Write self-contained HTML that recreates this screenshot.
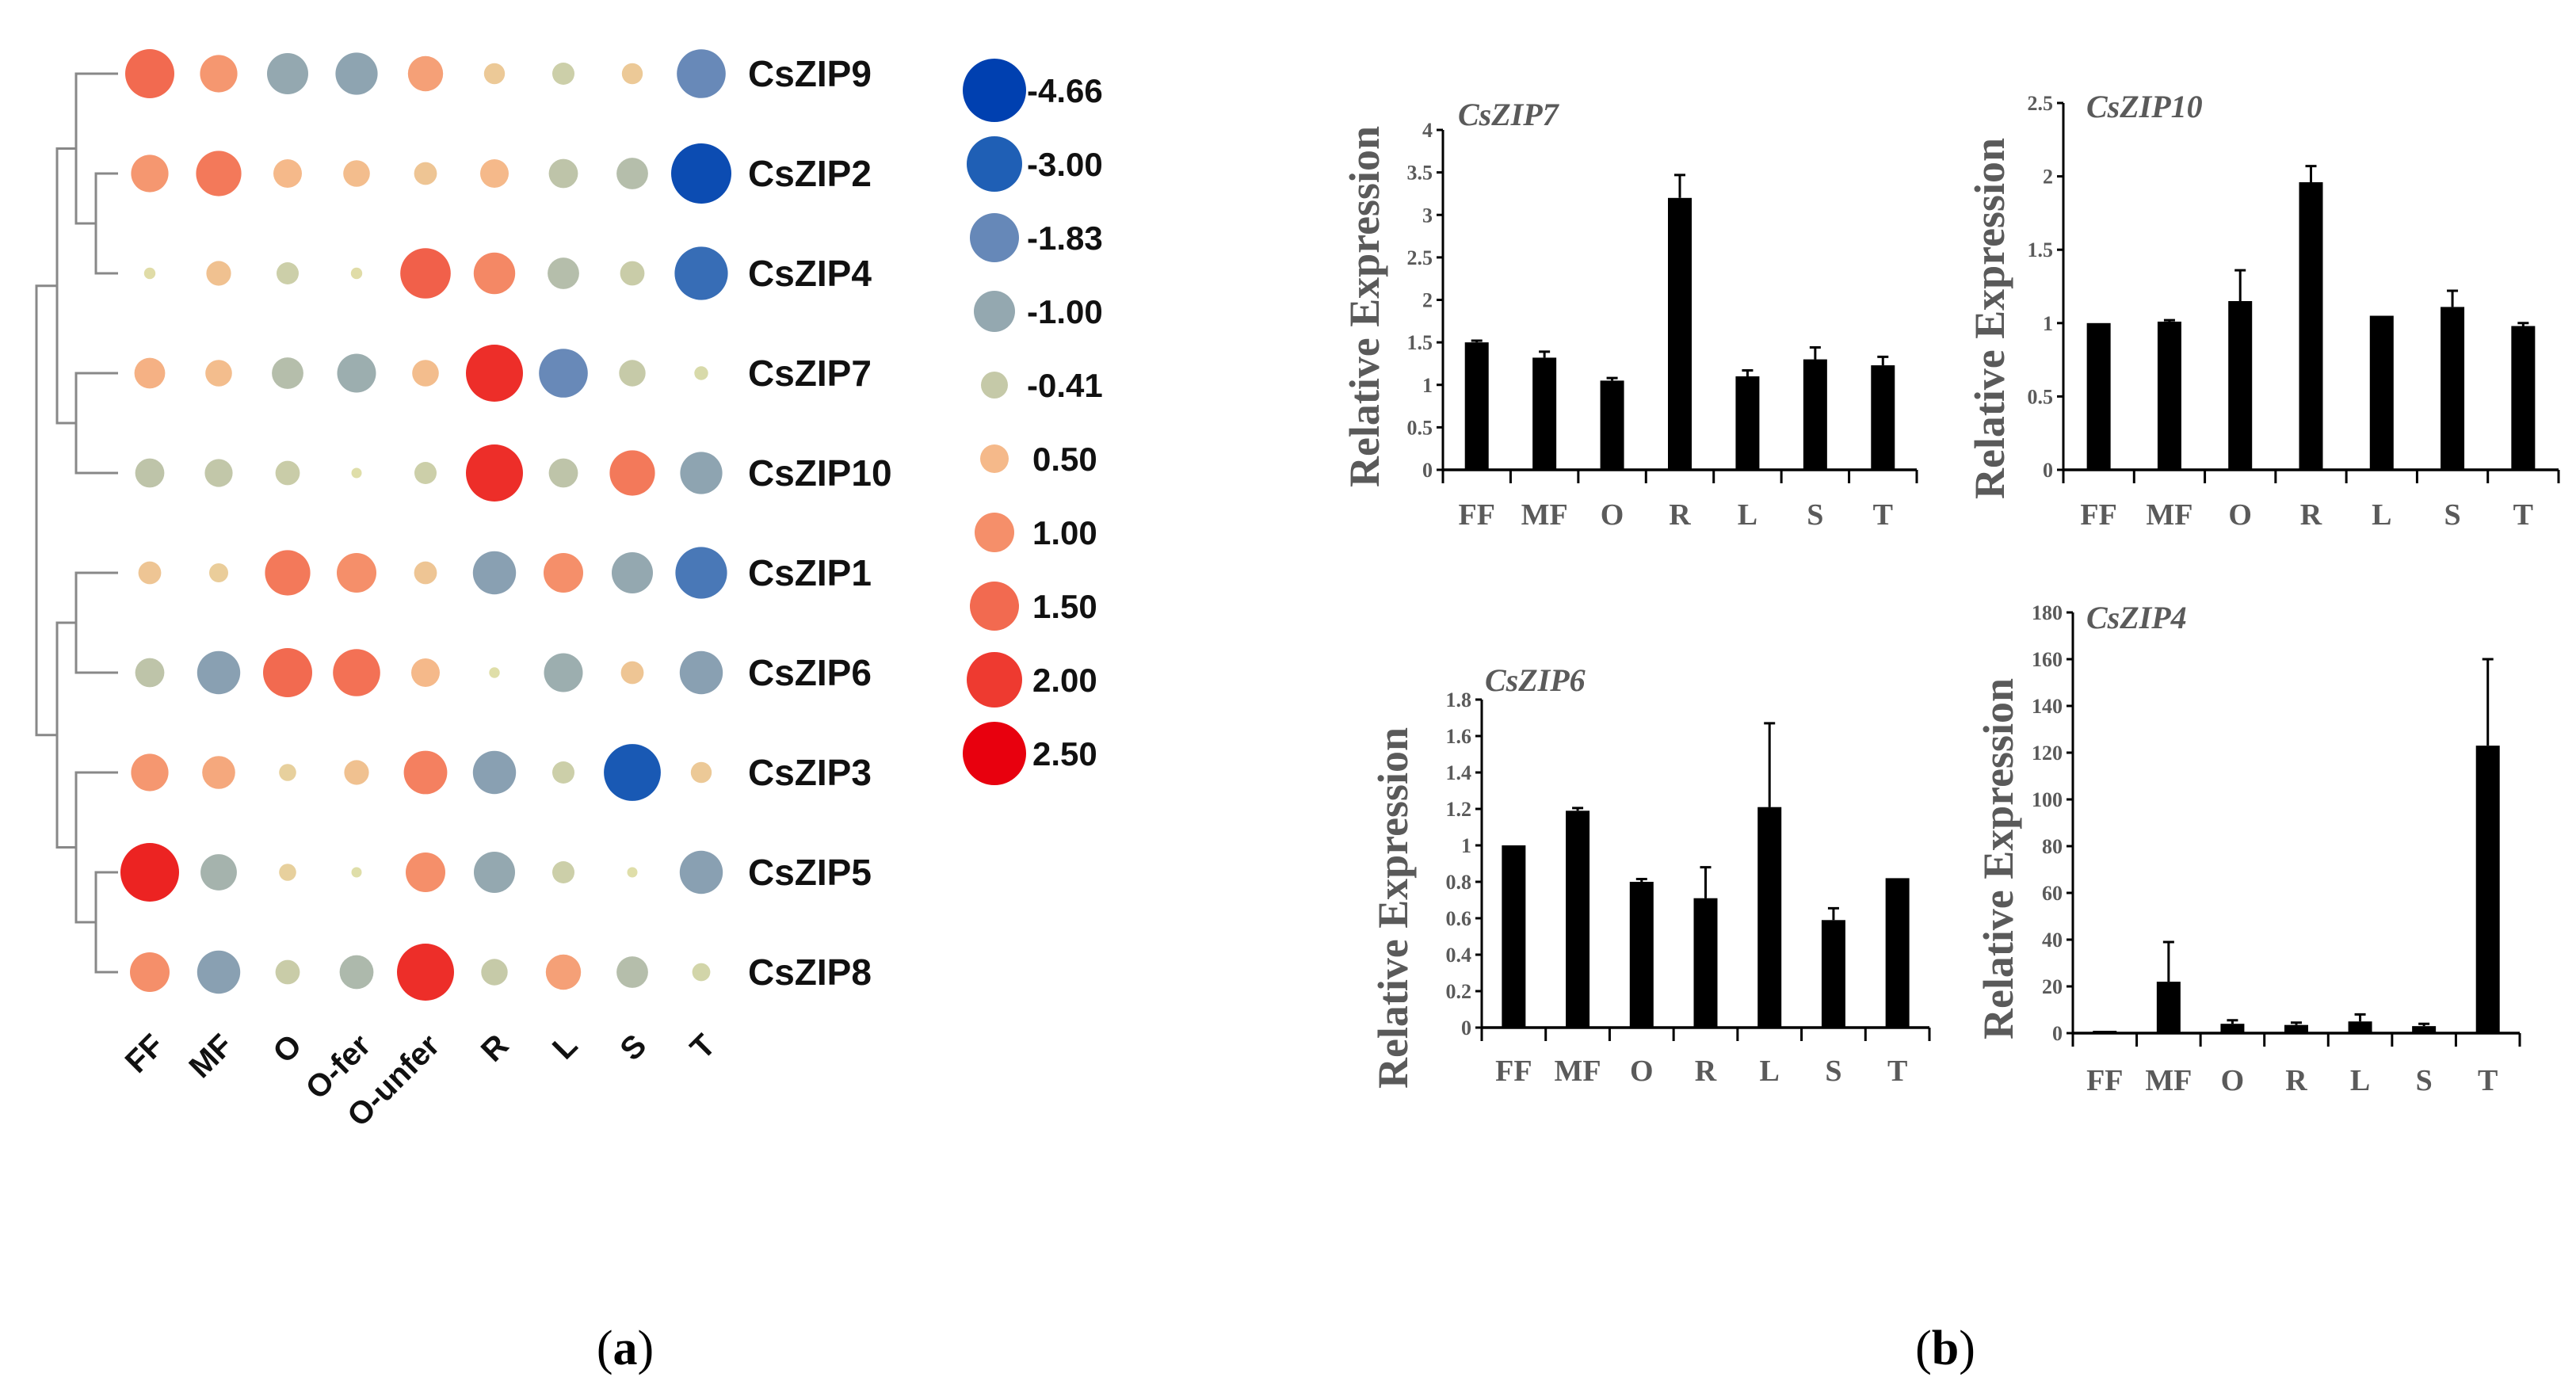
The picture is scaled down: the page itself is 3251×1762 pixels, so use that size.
<!DOCTYPE html>
<html><head><meta charset="utf-8"><style>
html,body{margin:0;padding:0;background:#fff;}
svg{display:block;}
</style></head><body>
<svg id="fig" width="3251" height="1762" viewBox="0 0 3251 1762" xmlns="http://www.w3.org/2000/svg">
<g id="bubbleG"></g>
<g id="barsG"></g>
<text x="789" y="1722" text-anchor="middle" font-family="Liberation Serif, serif" font-size="62">(<tspan font-weight="bold">a</tspan>)</text>
<text x="2455" y="1722" text-anchor="middle" font-family="Liberation Serif, serif" font-size="62">(<tspan font-weight="bold">b</tspan>)</text>
</svg>
<script>
const NS='http://www.w3.org/2000/svg';
// ---- bubble heatmap data ----
const genes=['CsZIP9','CsZIP2','CsZIP4','CsZIP7','CsZIP10','CsZIP1','CsZIP6','CsZIP3','CsZIP5','CsZIP8'];
const tissues=['FF','MF','O','O-fer','O-unfer','R','L','S','T'];
const rowCsZIP9=[1.5,0.9,-1.0,-1.1,0.8,0.3,-0.3,0.3,-1.8];
const rowCsZIP2=[0.9,1.3,0.5,0.45,0.35,0.5,-0.5,-0.6,-4.0];
const rowCsZIP4=[0.05,0.4,-0.3,0.05,1.6,1.1,-0.6,-0.35,-2.6];
const rowCsZIP7=[0.6,0.45,-0.6,-0.9,0.45,2.1,-1.8,-0.4,-0.1];
const rowCsZIP10=[-0.5,-0.45,-0.35,0.02,-0.3,2.1,-0.5,1.3,-1.1];
const rowCsZIP1=[0.35,0.25,1.3,1.0,0.35,-1.2,1.0,-1.0,-2.3];
const rowCsZIP6=[-0.5,-1.2,1.5,1.4,0.5,0.03,-0.9,0.35,-1.2];
const rowCsZIP3=[0.9,0.7,0.2,0.4,1.2,-1.2,-0.3,-3.3,0.3];
const rowCsZIP5=[2.2,-0.8,0.2,0.02,1.0,-1.0,-0.3,0.02,-1.2];
const rowCsZIP8=[1.0,-1.2,-0.35,-0.7,2.1,-0.4,0.8,-0.6,-0.2];
const legendValues=[-4.66,-3.00,-1.83,-1.00,-0.41,0.50,1.00,1.50,2.00,2.50];
// ---- bar chart data ----
const categories=['FF','MF','O','R','L','S','T'];
const zip7Values=[1.5,1.32,1.05,3.2,1.1,1.3,1.23];
const zip7Errors=[0.02,0.07,0.03,0.27,0.07,0.14,0.1];
const zip7Ticks=['0','0.5','1','1.5','2','2.5','3','3.5','4'];
const zip10Values=[1.0,1.01,1.15,1.96,1.05,1.11,0.98];
const zip10Errors=[0.0,0.01,0.21,0.11,0.0,0.11,0.02];
const zip10Ticks=['0','0.5','1','1.5','2','2.5'];
const zip6Values=[1.0,1.19,0.8,0.71,1.21,0.59,0.82];
const zip6Errors=[0.0,0.015,0.015,0.17,0.46,0.065,0.0];
const zip6Ticks=['0','0.2','0.4','0.6','0.8','1','1.2','1.4','1.6','1.8'];
const zip4Values=[1,22,4,3.5,5,3,123];
const zip4Errors=[0,17,1.5,1,3,1,37];
const zip4Ticks=['0','20','40','60','80','100','120','140','160','180'];

// scale stops (style)
const stopV=[-4.66,-3.0,-1.83,-1.0,-0.41,0,0.5,1.0,1.5,2.0,2.5];
const stopR=[40,35,31,26,17,6,18,25,31,35,40];
const stopC=[[0,64,176],[31,95,181],[102,136,184],[148,168,176],[197,201,168],[222,224,170],[245,185,138],[245,143,106],[242,106,80],[238,58,48],[232,0,14]];
function interp(v){
  if(v<=stopV[0])return {r:stopR[0],c:stopC[0]};
  for(let i=0;i<stopV.length-1;i++){
    if(v<=stopV[i+1]){const t=(v-stopV[i])/(stopV[i+1]-stopV[i]);
      return {r:stopR[i]+t*(stopR[i+1]-stopR[i]),c:stopC[i].map((a,k)=>Math.round(a+t*(stopC[i+1][k]-a)))};}
  }
  return {r:stopR[stopR.length-1],c:stopC[stopC.length-1]};
}
function mk(tag,attrs,parent){const e=document.createElementNS(NS,tag);for(const k in attrs)e.setAttribute(k,attrs[k]);parent.appendChild(e);return e;}
const bubG=document.getElementById('bubbleG');
const allRows=[rowCsZIP9,rowCsZIP2,rowCsZIP4,rowCsZIP7,rowCsZIP10,rowCsZIP1,rowCsZIP6,rowCsZIP3,rowCsZIP5,rowCsZIP8];
const colX=i=>189+i*87.0;
const rowY=i=>93+i*126.0;
allRows.forEach((row,ri)=>{
  row.forEach((v,ci)=>{
    const s=interp(v);
    const c=mk('circle',{cx:colX(ci),cy:rowY(ri),r:s.r.toFixed(1),fill:'rgb('+s.c.join(',')+')'},bubG);
    
    
  });
  const t=mk('text',{x:944,y:rowY(ri)+16,'font-family':'Liberation Sans, sans-serif','font-weight':'bold','font-size':46,fill:'#111'},bubG);
  t.textContent=genes[ri];
  
  
});
tissues.forEach((tn,ci)=>{
  const x=colX(ci)+20,y=1322;
  const t=mk('text',{x:x,y:y,'text-anchor':'end','font-family':'Liberation Sans, sans-serif','font-weight':'bold','font-size':40,fill:'#111',transform:'rotate(-45 '+x+' '+y+')'},bubG);
  t.textContent=tn;
  
  
});
legendValues.forEach((v,i)=>{
  const y=114+i*93;
  const s=interp(v);
  const c=mk('circle',{cx:1255,cy:y,r:s.r.toFixed(1),fill:'rgb('+s.c.join(',')+')'},bubG);
  
  
  const t=mk('text',{x:v<0?1296:1303,y:y+15,'font-family':'Liberation Sans, sans-serif','font-weight':'bold','font-size':42,fill:'#111'},bubG);
  t.textContent=v.toFixed(2);
  
  
});
// dendrogram
const dg=mk('g',{stroke:'#888','stroke-width':3,fill:'none'},bubG);


const leafX=149;
function joinD(x,y1,y2,x1,x2){mk('path',{d:'M'+x1+' '+y1+'H'+x+'V'+y2+'H'+x2},dg);return (y1+y2)/2;}
const j24=joinD(121,rowY(1),rowY(2),leafX,leafX);
const j924=joinD(96,rowY(0),j24,leafX,121);
const j710=joinD(96,rowY(3),rowY(4),leafX,leafX);
const jUpper=joinD(72,j924,j710,96,96);
const j16=joinD(96,rowY(5),rowY(6),leafX,leafX);
const j58=joinD(121,rowY(8),rowY(9),leafX,leafX);
const j358=joinD(96,rowY(7),j58,leafX,121);
const jLower=joinD(72,j16,j358,96,96);
joinD(46,jUpper,jLower,72,72);

const barsG=document.getElementById('barsG');
const grey='#5a5a5a';
function chart(cfg){
  const g=mk('g',{},barsG);
  
  
  const ymax=parseFloat(cfg.ticks[cfg.ticks.length-1]);
  const yS=v=>cfg.y0-(v/ymax)*(cfg.y0-cfg.yTop);
  const n=categories.length, bw=(cfg.x1-cfg.x0)/n;
  const xS=i=>cfg.x0+bw*(i+0.5);
  const ya=mk('line',{x1:cfg.x0,y1:cfg.yTop,x2:cfg.x0,y2:cfg.y0+17,stroke:'#000','stroke-width':3},g);
  
  
  cfg.ticks.forEach(tk=>{
    const v=parseFloat(tk),y=yS(v);
    mk('line',{x1:cfg.x0-8,y1:y,x2:cfg.x0,y2:y,stroke:'#000','stroke-width':3},g);
    const t=mk('text',{x:cfg.x0-13,y:y+9,'text-anchor':'end','font-family':'Liberation Serif, serif','font-weight':'bold','font-size':26,fill:grey},g);
    t.textContent=tk;
    
    
  });
  cfg.values.forEach((v,i)=>{
    const x=xS(i),e=cfg.errors[i];
    if(e>0){
      const eb=mk('path',{d:'M'+x+' '+yS(v)+'V'+yS(v+e)+'M'+(x-7)+' '+yS(v+e)+'H'+(x+7),stroke:'#000','stroke-width':3,fill:'none'},g);
      
      
    }
    const r=mk('rect',{x:x-15,y:yS(v),width:30,height:cfg.y0-yS(v),fill:'#000'},g);
    
    
    const t=mk('text',{x:x,y:cfg.labY,'text-anchor':'middle','font-family':'Liberation Serif, serif','font-weight':'bold','font-size':38,fill:grey},g);
    t.textContent=categories[i];
    
    
  });
  const xa=mk('line',{x1:cfg.x0,y1:cfg.y0,x2:cfg.x1,y2:cfg.y0,stroke:'#000','stroke-width':3.5},g);
  
  
  for(let i=0;i<=n;i++){mk('line',{x1:cfg.x0+bw*i,y1:cfg.y0,x2:cfg.x0+bw*i,y2:cfg.y0+17,stroke:'#000','stroke-width':3},g);}
  const tt=mk('text',{x:cfg.tx,y:cfg.ty,'font-family':'Liberation Serif, serif','font-weight':'bold','font-style':'italic','font-size':40,fill:grey},g);
  tt.textContent=cfg.title;
  
  
  const ylab=mk('text',{x:0,y:0,'text-anchor':'middle','font-family':'Liberation Serif, serif','font-weight':'bold','font-size':54,fill:grey,textLength:456,lengthAdjust:'spacingAndGlyphs',transform:'translate('+(cfg.ylx+18)+' '+cfg.yly+') rotate(-90)'},g);
  ylab.textContent='Relative Expression';
  
  
}
chart({name:'chart-cszip7',title:'CsZIP7',values:zip7Values,errors:zip7Errors,ticks:zip7Ticks,x0:1821,x1:2419,y0:593,yTop:164,labY:662,tx:1840,ty:158,ylx:1722,yly:387});
chart({name:'chart-cszip10',title:'CsZIP10',values:zip10Values,errors:zip10Errors,ticks:zip10Ticks,x0:2604,x1:3229,y0:593,yTop:130,labY:662,tx:2633,ty:148,ylx:2511,yly:402});
chart({name:'chart-cszip6',title:'CsZIP6',values:zip6Values,errors:zip6Errors,ticks:zip6Ticks,x0:1870,x1:2435,y0:1297,yTop:883,labY:1364,tx:1874,ty:872,ylx:1758,yly:1146});
chart({name:'chart-cszip4',title:'CsZIP4',values:zip4Values,errors:zip4Errors,ticks:zip4Ticks,x0:2616,x1:3180,y0:1304,yTop:773,labY:1376,tx:2633,ty:793,ylx:2522,yly:1084});
</script>
</body></html>
